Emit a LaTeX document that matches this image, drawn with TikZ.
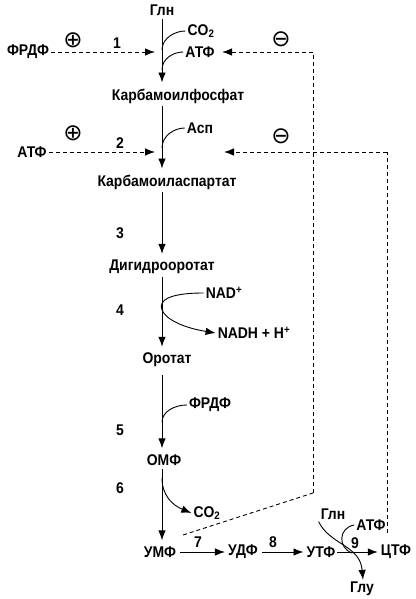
\documentclass[tikz,border=0pt]{standalone}
\usepackage{fontspec}
\setmainfont[FakeStretch=0.9]{Liberation Sans}
\newfontfamily\symf{DejaVu Sans}
\usetikzlibrary{arrows.meta}
\begin{document}
\begin{tikzpicture}[x=1pt,y=-1pt,
  lbl/.style={font=\fontsize{15.5}{17}\selectfont\bfseries, inner sep=2pt},
  sym/.style={font=\symf\fontsize{23}{24}\selectfont, inner sep=0pt},
  tip/.style={-{Latex[length=10pt,width=7.5pt]}},
  flow/.style={line width=0.9pt, tip, shorten >=4pt, shorten <=1pt},
  side/.style={line width=0.9pt},
  sidearr/.style={line width=0.9pt, tip},
  regline/.style={draw=black, line width=0.9pt, dash pattern=on 4pt off 3pt},
  reg/.style={regline, tip}]
\useasboundingbox (0,0) rectangle (415,599);
% nodes
\node[lbl] (gln) at (162,10) {Глн};
\node[lbl] (co2a) at (201,31) {CO\textsubscript{2}};
\node[lbl] (atf1) at (200,52) {АТФ};
\node[lbl] (frdf1) at (28,52) {ФРДФ};
\node[sym] (plus1) at (73,40) {⊕};
\node[lbl] (n1) at (117,43) {1};
\node[sym] (minus1) at (281,39) {⊖};
\node[lbl] (carbp) at (178,96) {Карбамоилфосфат};
\node[lbl] (asp) at (200,128) {Асп};
\node[lbl] (atf2) at (32,152) {АТФ};
\node[sym] (plus2) at (73,133) {⊕};
\node[lbl] (n2) at (120,143) {2};
\node[sym] (minus2) at (281,136) {⊖};
\node[lbl] (carba) at (167,182) {Карбамоиласпартат};
\node[lbl] (n3) at (120,233) {3};
\node[lbl] (dihyd) at (162,267) {Дигидрооротат};
\node[lbl] (nad) at (224,293) {NAD\textsuperscript{+}};
\node[lbl] (n4) at (120,310) {4};
\node[lbl] (nadh) at (254,333) {NADH + H\textsuperscript{+}};
\node[lbl] (orot) at (167,360) {Оротат};
\node[lbl] (frdf2) at (210,405) {ФРДФ};
\node[lbl] (n5) at (120,430) {5};
\node[lbl] (omf) at (164,460) {ОМФ};
\node[lbl] (n6) at (120,488) {6};
\node[lbl] (co2b) at (207,513) {CO\textsubscript{2}};
\node[lbl] (umf) at (160,552) {УМФ};
\node[lbl] (udf) at (243,552) {УДФ};
\node[lbl] (utf) at (321,552) {УТФ};
\node[lbl] (ctf) at (396,552) {ЦТФ};
\node[lbl] (n7) at (198,542) {7};
\node[lbl] (n8) at (273,542) {8};
\node[lbl] (n9) at (355,543) {9};
\node[lbl] (gln2) at (333,514) {Глн};
\node[lbl] (atf3) at (371,525) {АТФ};
\node[lbl] (glu) at (362,589) {Глу};
% helper coordinates
\coordinate (ax) at (162,0);
\coordinate (j1) at (162,50);
\coordinate (j2) at (162,70);
\coordinate (j3) at (162,148);
\coordinate (j5) at (162,422);
\coordinate (j6) at (162,478);
\coordinate (t1) at (155,52);
\coordinate (t2) at (155,152);
\coordinate (t3) at (224,152);
\coordinate (t4) at (222,52);
\coordinate (d1s) at (183,535);
\coordinate (d1c) at (313,493);
\coordinate (d1t) at (313,52);
\coordinate (d2s) at (387,533);
\coordinate (d2t) at (387,152);
% main chain
\draw[flow] (gln.south) -- (ax |- carbp.north);
\draw[flow] (ax |- carbp.south) -- (ax |- carba.north);
\draw[flow] (ax |- carba.south) -- (ax |- dihyd.north);
\draw[flow] (ax |- dihyd.south) -- (ax |- orot.north);
\draw[flow, shorten <=6pt] (ax |- orot.south) -- (ax |- omf.north);
\draw[flow] (ax |- omf.south) -- (ax |- umf.north);
\draw[flow, shorten >=1pt, shorten <=2pt] (umf.east) -- (udf.west);
\draw[flow, shorten >=1pt, shorten <=2pt] (udf.east) -- (utf.west);
\draw[flow, shorten >=1pt, shorten <=0pt] (utf.east) -- (ctf.west);
% side substrates
\draw[side] (co2a.west) .. controls (175,31) and (162,38) .. (j1);
\draw[side] (atf1.west) .. controls (174,52) and (162,58) .. (j2);
\draw[side] (asp.west) .. controls (174,128) and (162,136) .. (j3);
\draw[sidearr] (nad.west) .. controls (170,293) and (158,300) .. (162,310)
  .. controls (166,320) and (185,328) .. (nadh.west);
\draw[side] (frdf2.west) .. controls (174,405) and (162,412) .. (j5);
\draw[sidearr] (j6) .. controls (162,495) and (172,505) .. (co2b.west);
\draw[sidearr] (gln2.south west) .. controls (330,545) and (360,545) .. ([xshift=1pt]glu.north);
\draw[side] (atf3.west) .. controls (338,528) and (338,548) .. (352,553);
% regulation
\draw[reg] (frdf1.east) -- (t1);
\draw[reg] (atf2.east) -- (t2);
\draw[regline] (d1s) -- (d1c);
\draw[regline] (d1c) -- (d1t);
\draw[reg] (d1t) -- (t4);
\draw[regline] (d2s) -- (d2t);
\draw[reg] (d2t) -- (t3);
\end{tikzpicture}
\end{document}
